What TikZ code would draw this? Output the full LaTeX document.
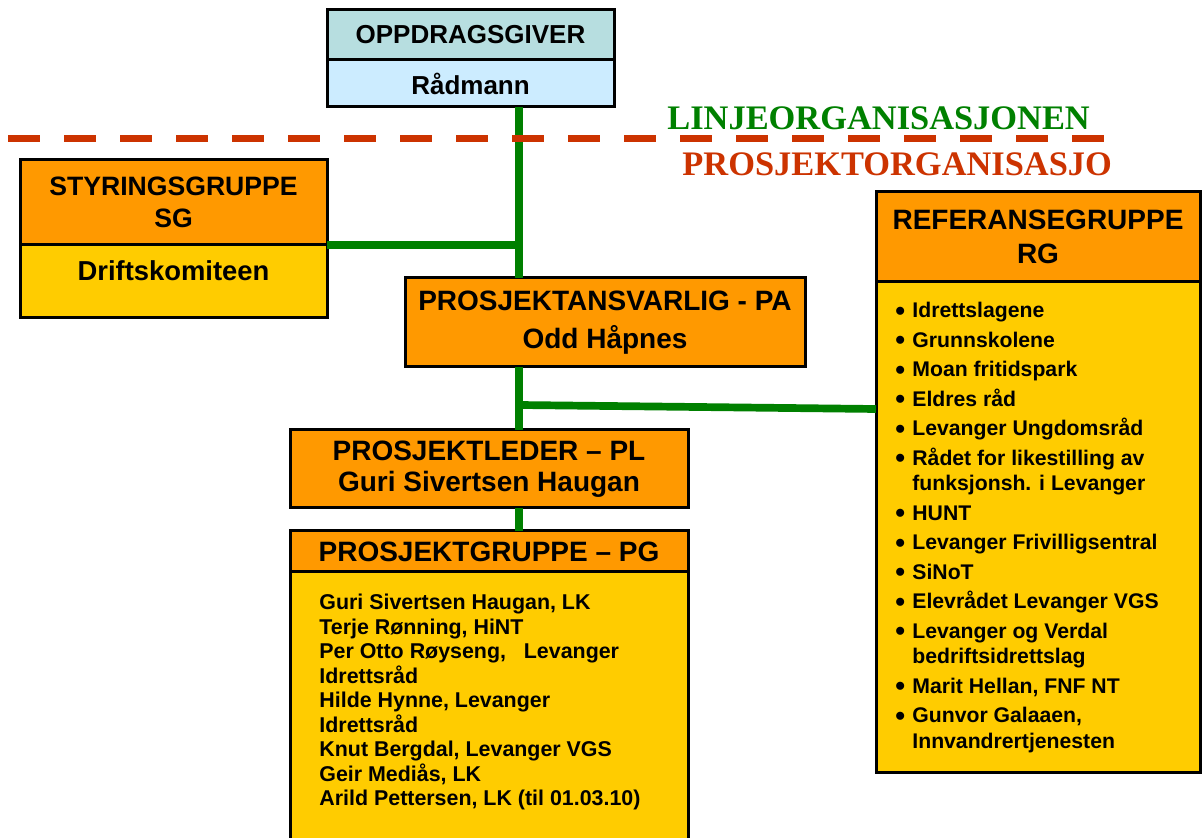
\documentclass[tikz,border=0pt]{standalone}
\usepackage{fontspec}
\setmainfont{Liberation Sans}
\newfontfamily\labelfont{Liberation Serif}
\usepackage{tikz}
\definecolor{orgteal}{RGB}{183,222,224}
\definecolor{orgblue}{RGB}{204,236,255}
\definecolor{orgorange}{RGB}{255,153,0}
\definecolor{orgyellow}{RGB}{255,204,0}
\definecolor{orggreen}{RGB}{0,128,0}
\definecolor{orgred}{RGB}{204,51,0}
\newcommand{\rgitem}[1]{\makebox[8.5pt][l]{\raisebox{-1.2pt}{\fontsize{14}{14}\selectfont\textbullet}}#1}
\newcommand{\rgcont}[1]{\hspace*{8.5pt}#1}
\tikzset{
  box/.style={draw=black, line width=1.5pt, inner sep=0pt, outer sep=0pt, align=center},
  bigtext/.style={font=\bfseries\fontsize{14}{17}\selectfont},
  link/.style={draw=orggreen, line width=3.85pt},
  divider/.style={draw=orgred, line width=3.85pt, dash pattern=on 16pt off 12pt}
}

\begin{document}
\begin{tikzpicture}[x=0.5pt, y=-0.5pt]

  \useasboundingbox (0,0) rectangle (1204,838);
  \clip (0,0) rectangle (1204,838);

  %% oppdragsgiver
  \node[box, fill=orgteal, minimum width=143.5pt, minimum height=25pt,
        font=\bfseries\fontsize{13}{15}\selectfont] (og) at (470.5,35) {OPPDRAGSGIVER};
  \node[box, fill=orgblue, minimum width=143.5pt, minimum height=23.5pt,
        font=\bfseries\fontsize{13}{15}\selectfont] (rad) at (470.5,83.5) {Rådmann};

  %% styringsgruppe
  \node[box, fill=orgorange, minimum width=153.5pt, minimum height=42.5pt,
        font=\bfseries\fontsize{13.3}{16}\selectfont] (sg) at (173.5,202.5) {STYRINGSGRUPPE\\SG};
  \node[box, fill=orgyellow, anchor=north, minimum width=153.5pt, text height=18pt, text depth=18.5pt,
        font=\bfseries\fontsize{13.7}{16}\selectfont] (drift) at (173.5,245) {Driftskomiteen};

  %% prosjektansvarlig / prosjektleder
  \node[box, fill=orgorange, minimum width=200pt, minimum height=44.5pt,
        font=\bfseries\fontsize{14}{19}\selectfont] (pa) at (605,322.5) {PROSJEKTANSVARLIG - PA\\Odd Håpnes};
  \node[box, fill=orgorange, minimum width=199pt, minimum height=39pt,
        font=\bfseries\fontsize{14}{15.5}\selectfont] (pl) at (489,469) {PROSJEKTLEDER – PL\\Guri Sivertsen Haugan};

  %% prosjektgruppe
  \node[box, bigtext, fill=orgorange, anchor=north, minimum width=199pt, minimum height=20.5pt] (pgh) at (489,531) {PROSJEKTGRUPPE – PG};
  \node[box, fill=orgyellow, anchor=north, minimum width=199pt, minimum height=140pt] (pgb) at (489,572) {};
  \node[anchor=north west, inner sep=0pt, align=left,
        font=\bfseries\fontsize{10.7}{12.25}\selectfont] (pglist) at (319,594)
    {Guri Sivertsen Haugan, LK\\
     Terje Rønning, HiNT\\
     Per Otto Røyseng, \ \ Levanger\\
     Idrettsråd\\
     Hilde Hynne, Levanger\\
     Idrettsråd\\
     Knut Bergdal, Levanger VGS\\
     Geir Mediås, LK\\
     Arild Pettersen, LK (til 01.03.10)};

  %% referansegruppe
  \node[box, bigtext, fill=orgorange, minimum width=162pt, minimum height=45pt] (rgh) at (1038,237) {REFERANSEGRUPPE\\RG};
  \node[box, fill=orgyellow, anchor=north, minimum width=162pt, minimum height=245pt] (rgb) at (1038,282) {};
  \node[anchor=north west, inner sep=0pt, align=left,
        font=\bfseries\fontsize{10.6}{12.75}\selectfont] (rglist) at (895,302)
    {\rgitem{Idrettslagene}\\[2pt]
     \rgitem{Grunnskolene}\\[2pt]
     \rgitem{Moan fritidspark}\\[2pt]
     \rgitem{Eldres råd}\\[2pt]
     \rgitem{Levanger Ungdomsråd}\\[2pt]
     \rgitem{Rådet for likestilling av}\\
     \rgcont{funksjonsh. i Levanger}\\[2pt]
     \rgitem{HUNT}\\[2pt]
     \rgitem{Levanger Frivilligsentral}\\[2pt]
     \rgitem{SiNoT}\\[2pt]
     \rgitem{Elevrådet Levanger VGS}\\[2pt]
     \rgitem{Levanger og Verdal}\\
     \rgcont{bedriftsidrettslag}\\[2pt]
     \rgitem{Marit Hellan, FNF NT}\\[2pt]
     \rgitem{Gunvor Galaaen,}\\
     \rgcont{Innvandrertjenesten}};

  %% green lines
  \coordinate (spine) at (519,0);
  \coordinate (rgjoin) at (519,405);
  \draw[link] (spine |- rad.south) -- (spine |- pa.north);
  \draw[link] (spine |- pa.south) -- (spine |- pl.north);
  \draw[link] (spine |- pl.south) -- (spine |- pgh.north);
  \draw[link] (sg.south east) -- (spine |- sg.south east);
  \draw[link] (rgjoin) -- ([yshift=-63.5pt]rgb.north west);

  %% line between the two organisations
  \coordinate (dashl) at (8,138.5);
  \coordinate (dashr) at (1104,138.5);
  \draw[divider] (dashl) -- (dashr);
  \node[anchor=base west, inner sep=0pt, text=orggreen,
        font=\labelfont\bfseries\fontsize{17.2}{20}\selectfont] (linje) at (667,130) {LINJEORGANISASJONEN};
  \node[anchor=base west, inner sep=0pt, text=orgred,
        font=\labelfont\bfseries\fontsize{17.2}{20}\selectfont] (prosjorg) at (682,176) {PROSJEKTORGANISASJO};

\end{tikzpicture}
\end{document}
